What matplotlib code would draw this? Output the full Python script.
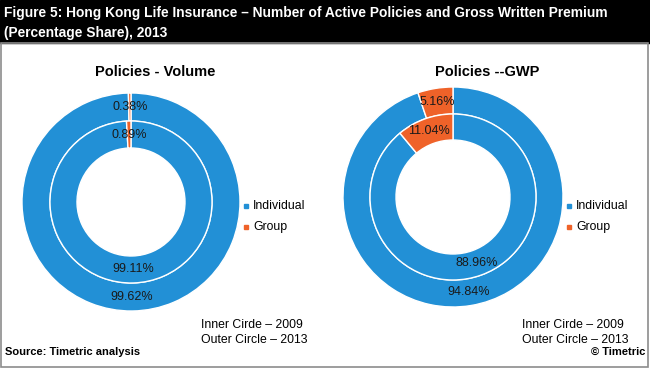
import matplotlib.pyplot as plt
from matplotlib.patches import Rectangle
from matplotlib import font_manager

plt.rcParams['font.family'] = ['Liberation Sans', 'DejaVu Sans']

segments = ['Individual', 'Group']
volume_2009 = [99.11, 0.89]
volume_2013 = [99.62, 0.38]
gwp_2009 = [88.96, 11.04]
gwp_2013 = [94.84, 5.16]

BLUE = '#2290d6'
ORANGE = '#ef6229'
TXT = '#1a1a1a'
W, H = 650, 370

names = {f.name for f in font_manager.fontManager.ttflist}
narrow = 'Liberation Sans Narrow' in names
head_font = ['Liberation Sans Narrow', 'Liberation Sans'] if narrow else ['Liberation Sans']
head_size = 12.3 if narrow else 9.9

fig = plt.figure(figsize=(6.5, 3.7), dpi=100)
bg = fig.add_axes([0, 0, 1, 1])
bg.set_xlim(0, W)
bg.set_ylim(H, 0)
bg.axis('off')

# header band and frame
bg.add_patch(Rectangle((0, 0), W, 43, color='black'))
bg.add_patch(Rectangle((1, 43), W - 3, H - 46, fill=False, ec='#8c8c8c', lw=1.2))
bg.text(4, 13, 'Figure 5: Hong Kong Life Insurance \u2013 Number of Active Policies and Gross Written Premium',
        color='white', fontsize=head_size, fontweight='bold', va='center', family=head_font)
bg.text(4, 33, '(Percentage Share), 2013', color='white', fontsize=head_size, fontweight='bold',
        va='center', family=head_font)

bg.text(5, 352, 'Source: Timetric analysis', fontsize=8, fontweight='bold', va='center')
bg.text(645, 352, '\u00a9 Timetric', fontsize=8, fontweight='bold', va='center', ha='right')


def donut(cx, cy, r, r_mid, r_hole, inner, outer):
    ax = fig.add_axes([(cx - r) / W, 1 - (cy + r) / H, 2 * r / W, 2 * r / H])
    w_out = (r - r_mid) / r
    m = r_mid / r
    w_in = (r_mid - r_hole) / r
    for vals, rad, w in [(outer, 1.0, w_out), (inner, m, w_in)]:
        ax.pie(vals, colors=[BLUE, ORANGE], radius=rad, startangle=90,
               counterclock=False, autopct='%.2f%%',
               pctdistance=1 - w / (2 * rad),
               wedgeprops=dict(width=w, edgecolor='white', linewidth=1.0),
               textprops=dict(fontsize=9, color=TXT))
    ax.set_xlim(-1, 1)
    ax.set_ylim(-1, 1)
    ax.axis('off')


donut(131, 202, 109, 81, 54, volume_2009, volume_2013)
donut(453, 197, 110, 83, 57, gwp_2009, gwp_2013)

# overlay for titles, legends and notes (above the donuts)
top = fig.add_axes([0, 0, 1, 1])
top.set_xlim(0, W)
top.set_ylim(H, 0)
top.axis('off')


def annotate(title, tx, legx, notex):
    top.text(tx, 72, title, fontsize=10.5, fontweight='bold', ha='center', va='center')
    for i, (lab, col) in enumerate(zip(segments, [BLUE, ORANGE])):
        y = 206 + 21 * i
        top.plot(legx, y, 's', color=col, ms=3.5)
        top.text(legx + 7, y, lab, fontsize=8.8, va='center')
    top.text(notex, 325, 'Inner Cirde \u2013 2009', fontsize=8.8, va='center')
    top.text(notex, 340, 'Outer Circle \u2013 2013', fontsize=8.8, va='center')


annotate('Policies - Volume', 155, 246, 201)
annotate('Policies --GWP', 487, 569, 522)

fig.savefig('out.png', dpi=100)
